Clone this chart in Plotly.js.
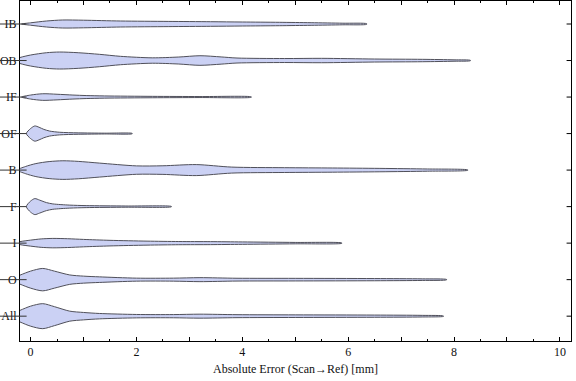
<!DOCTYPE html>
<html>
<head>
<meta charset="utf-8">
<script src="https://cdn.plot.ly/plotly-3.0.1.min.js"></script>
<style>html,body{margin:0;padding:0;background:#fff;}</style>
</head>
<body>
<div id="chart" style="width:576px;height:381px;"></div>
<script>
// Categories, bottom to top
const categories = ['All', 'O', 'I', 'F', 'B', 'OF', 'IF', 'OB', 'IB'];

// Density profiles: error values (mm) and density (half-width, arbitrary units)
const errAll = [-0.45, -0.2, 0, 0.23, 0.45, 0.74, 1.0, 1.3, 2.0, 2.7, 3.2, 3.9, 5.0, 6.5, 7.4, 7.8];
const denAll = [0, 5.8, 10, 12.5, 9.5, 5.0, 3.7, 2.7, 1.7, 1.6, 2.0, 1.5, 1.3, 1.1, 0.8, 0.2];

const errO = [-0.4, -0.2, 0, 0.23, 0.45, 0.74, 1.0, 1.3, 2.0, 2.7, 3.2, 3.9, 5.0, 6.5, 7.4, 7.86];
const denO = [0, 4.5, 8.5, 11.2, 8.5, 4.7, 3.5, 2.8, 1.5, 1.5, 2.0, 1.4, 1.3, 1.1, 0.8, 0.2];

const errI = [-0.3, -0.2, 0, 0.2, 0.42, 0.7, 1.0, 1.5, 2.2, 2.8, 3.4, 4.0, 5.0, 5.88];
const denI = [0, 1.5, 3, 4.2, 4.7, 4.4, 3.7, 2.8, 2.0, 1.6, 1.5, 1.2, 0.7, 0.2];

const errF = [-0.08, 0.0, 0.08, 0.17, 0.3, 0.42, 0.74, 1.05, 1.8, 2.66];
const denF = [0, 5.5, 8, 6.5, 4, 2.7, 1.5, 1.0, 0.6, 0.2];

const errB = [-0.25, -0.1, 0.1, 0.35, 0.61, 0.9, 1.3, 2.0, 2.5, 3.13, 3.8, 4.8, 5.7, 6.6, 7.5, 8.26];
const denB = [0, 3.5, 6.5, 8.5, 9.3, 8.7, 7, 4.2, 4.3, 5.5, 3, 2.4, 2.1, 1.7, 1.1, 0.2];

const errOF = [-0.08, 0.0, 0.08, 0.16, 0.25, 0.36, 0.55, 0.9, 1.4, 1.92];
const denOF = [0, 5, 7.6, 6.3, 4.2, 2.5, 1.3, 0.7, 0.4, 0.2];

const errIF = [-0.17, 0, 0.23, 0.5, 0.8, 1.05, 1.4, 2.3, 3.2, 4.17];
const denIF = [0, 2, 3.3, 2.8, 2.0, 1.5, 1.1, 0.7, 0.5, 0.2];

const errOB = [-0.35, -0.2, 0, 0.3, 0.55, 0.9, 1.3, 1.7, 2.3, 2.8, 3.2, 3.6, 3.9, 4.8, 5.5, 6.5, 7.4, 8.0, 8.31];
const denOB = [0, 3, 5.5, 7.8, 8.5, 7.8, 6.2, 4.2, 2.7, 3.5, 4.8, 3.6, 2.5, 2.0, 2.2, 1.5, 1.2, 0.7, 0.2];

const errIB = [-0.17, 0, 0.3, 0.6, 1.0, 1.7, 2.6, 3.4, 4.0, 4.7, 5.3, 5.9, 6.35];
const denIB = [0, 1.2, 3.0, 4.0, 3.8, 3.0, 2.6, 2.3, 2.0, 1.7, 1.3, 0.8, 0.3];

const errs = [errAll, errO, errI, errF, errB, errOF, errIF, errOB, errIB];
const dens = [denAll, denO, denI, denF, denB, denOF, denIF, denOB, denIB];

const xTickVals = [0, 1, 2, 3, 4, 5, 6, 7, 8, 9, 10];
const xTickText = ['0', '', '2', '', '4', '', '6', '', '8', '', '10'];

const SCALE = 1 / 36.5; // density units -> category units
const FILL = 'rgb(203,209,244)';
const EDGE = 'rgb(80,80,90)';

const traces = categories.map((c, i) => {
  const xs = errs[i], ds = dens[i];
  const xr = xs.slice().reverse(), dr = ds.slice().reverse();
  return {
    type: 'scatter', mode: 'lines', name: c,
    x: xs.concat(xr),
    y: ds.map(d => i + d * SCALE).concat(dr.map(d => i - d * SCALE)),
    fill: 'toself', fillcolor: FILL,
    line: {color: EDGE, width: 1, shape: 'spline', smoothing: 0.8},
    hoverinfo: 'skip', showlegend: false
  };
});

const shapes = [];
categories.forEach((c, i) => {
  shapes.push({type: 'line', xref: 'paper', yref: 'y', x0: -0.04, x1: 0.012, y0: i, y1: i,
    line: {color: '#333', width: 1}, layer: 'above'});
  shapes.push({type: 'line', xref: 'paper', yref: 'y', x0: 0.992, x1: 1, y0: i, y1: i,
    line: {color: '#000', width: 1}, layer: 'above'});
});

const font = {family: '"Liberation Serif", "Times New Roman", serif', size: 12, color: '#111'};

const layout = {
  width: 576, height: 381,
  margin: {l: 20, r: 5, t: 1, b: 40},
  paper_bgcolor: '#fff', plot_bgcolor: '#fff',
  font: font,
  showlegend: false,
  xaxis: {
    range: [-0.2, 10.21], tickmode: 'array', tickvals: xTickVals, ticktext: xTickText,
    ticks: 'inside', ticklen: 4, tickcolor: '#000', tickwidth: 1,
    minor: {dtick: 0.5, tick0: 0, ticks: 'inside', ticklen: 2, tickcolor: '#000', showgrid: false},
    showline: true, linecolor: '#000', linewidth: 1, mirror: 'ticks',
    showgrid: false, zeroline: false,
    tickfont: font,
    title: {text: 'Absolute Error (Scan→Ref) [mm]', font: font, standoff: 6}
  },
  yaxis: {
    range: [-0.68, 8.63], tickmode: 'array',
    tickvals: categories.map((c, i) => i), ticktext: categories,
    ticks: '', ticklen: 0,
    showline: true, linecolor: '#000', linewidth: 1, mirror: true,
    showgrid: false, zeroline: false,
    tickfont: font
  },
  shapes: shapes
};

Plotly.newPlot('chart', traces, layout, {displayModeBar: false, staticPlot: true});
</script>
</body>
</html>
